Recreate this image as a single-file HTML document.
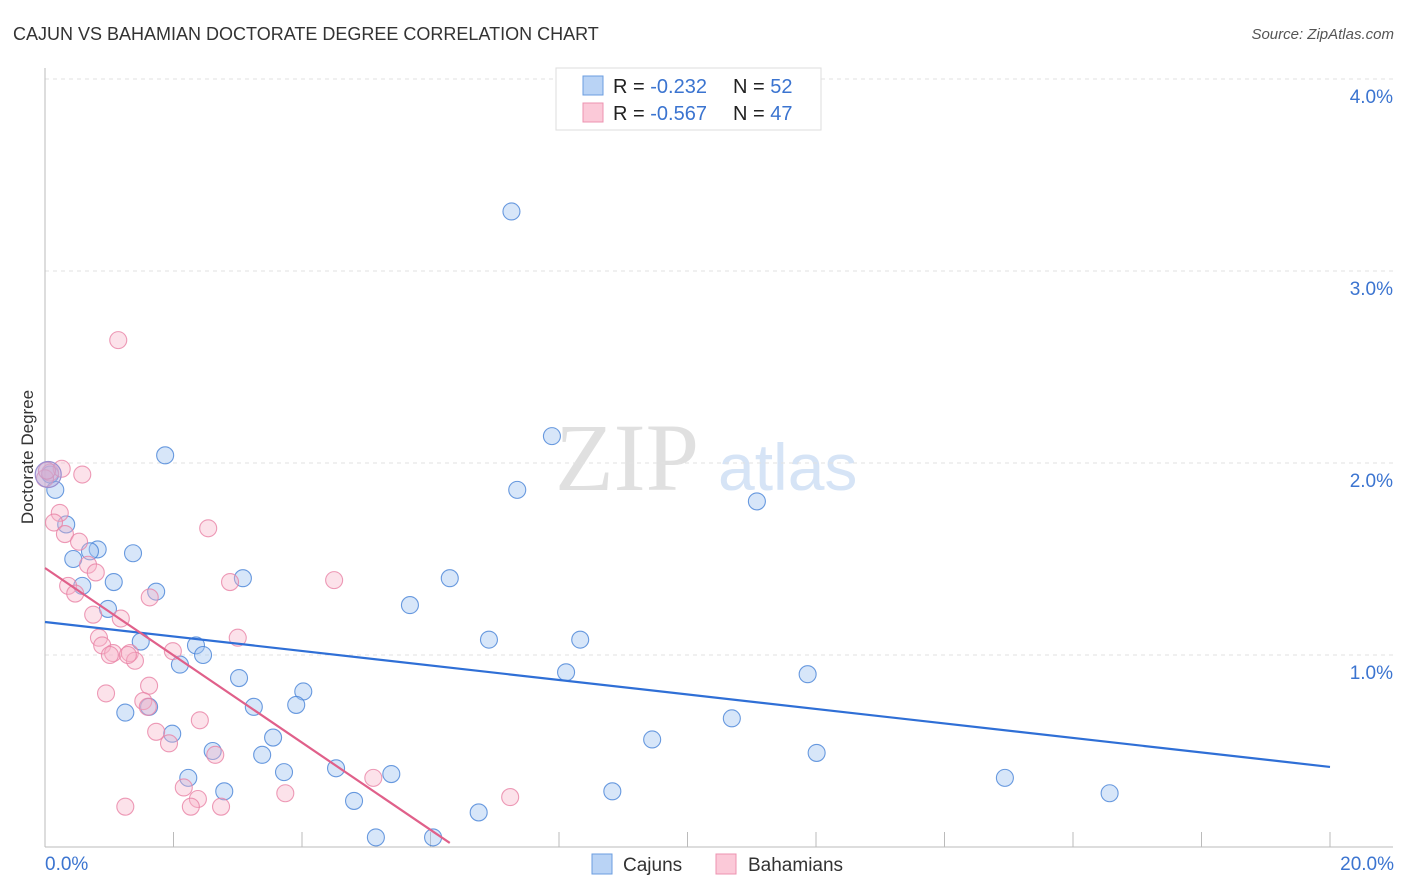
<!DOCTYPE html>
<html><head><meta charset="utf-8"><style>
body{margin:0;background:#fff;font-family:"Liberation Sans",sans-serif;}
#wrap{position:relative;width:1406px;height:892px;overflow:hidden;}
</style></head><body>
<div id="wrap">
<svg id="svg" width="1406" height="892" xmlns="http://www.w3.org/2000/svg">
<text x="13" y="40" font-size="18" fill="#333">CAJUN VS BAHAMIAN DOCTORATE DEGREE CORRELATION CHART</text>
<text x="1394" y="39" font-size="15" fill="#555" font-style="italic" text-anchor="end">Source: ZipAtlas.com</text>
<text x="0" y="0" transform="translate(33,457) rotate(-90)" font-size="17" fill="#333" text-anchor="middle">Doctorate Degree</text>
<text x="555" y="490" font-size="96" fill="#e0e0e0" font-family="Liberation Serif">ZIP</text>
<text x="718" y="490" font-size="66" fill="#d6e4f6">atlas</text>
<g id="grid"></g><g id="pts"></g><g id="lines"></g>
<g>
<rect x="556" y="68" width="265" height="62" fill="#fff" stroke="#ddd"/>
<rect x="583" y="76" width="20" height="19" fill="#b9d3f5" stroke="#6b9ee0"/>
<rect x="583" y="103" width="20" height="19" fill="#fbc9d8" stroke="#ec93b0"/>
<text x="613" y="93" font-size="20" fill="#222">R = <tspan fill="#3b74d0">-0.232</tspan><tspan x="733">N = </tspan><tspan fill="#3b74d0">52</tspan></text>
<text x="613" y="120" font-size="20" fill="#222">R = <tspan fill="#3b74d0">-0.567</tspan><tspan x="733">N = </tspan><tspan fill="#3b74d0">47</tspan></text>
</g>
<g>
<rect x="592" y="854" width="20" height="20" fill="#b9d3f5" stroke="#6b9ee0"/>
<text x="623" y="871" font-size="19" fill="#333">Cajuns</text>
<rect x="716" y="854" width="20" height="20" fill="#fbc9d8" stroke="#ec93b0"/>
<text x="748" y="871" font-size="19" fill="#333">Bahamians</text>
</g>
<text x="45" y="870" font-size="19" fill="#3b74d0">0.0%</text>
<text x="1394" y="870" font-size="19" fill="#3b74d0" text-anchor="end">20.0%</text>
</svg>
</div>
<script>
const yTicks=[1,2,3,4];
const yTickLabels=["1.0%","2.0%","3.0%","4.0%"];
const cajunX=[7.26,7.89,7.35,11.08,1.87,0.16,0.08,0.33,0.82,0.70,0.44,1.37,1.07,0.58,1.73,3.08,6.30,5.68,0.98,1.49,2.35,2.46,2.10,6.91,8.33,8.11,11.87,3.02,4.02,3.25,3.91,1.62,1.25,10.69,1.98,3.55,9.45,2.61,3.38,12.01,4.53,5.39,3.72,2.23,14.94,2.79,8.83,16.57,4.81,6.75,5.15,6.04];
const cajunY=[3.31,2.14,1.86,1.80,2.04,1.86,1.94,1.68,1.55,1.54,1.50,1.53,1.38,1.36,1.33,1.40,1.40,1.26,1.24,1.07,1.05,1.00,0.95,1.08,1.08,0.91,0.90,0.88,0.81,0.73,0.74,0.73,0.70,0.67,0.59,0.57,0.56,0.50,0.48,0.49,0.41,0.38,0.39,0.36,0.36,0.29,0.29,0.28,0.24,0.18,0.05,0.05];
const bahamX=[1.14,0.58,0.08,0.00,0.23,0.14,0.31,0.53,0.67,0.79,0.36,0.47,2.54,2.88,4.50,1.63,0.75,1.18,0.84,0.89,3.00,1.06,1.32,1.40,1.99,1.01,1.29,0.95,1.62,1.53,1.60,2.41,1.73,1.93,2.65,5.11,2.16,3.74,7.24,2.38,2.27,2.74,1.25,0.26,0.03];
const bahamY=[2.64,1.94,1.95,1.92,1.74,1.69,1.63,1.59,1.47,1.43,1.36,1.32,1.66,1.38,1.39,1.30,1.21,1.19,1.09,1.05,1.09,1.01,1.01,0.97,1.02,1.00,1.00,0.80,0.84,0.76,0.73,0.66,0.60,0.54,0.48,0.36,0.31,0.28,0.26,0.25,0.21,0.21,0.21,1.97,1.96];
const cajunTrend=[[0,1.172],[20,0.417]];
const bahamTrend=[[0,1.453],[6.30,0.021]];
const NS="http://www.w3.org/2000/svg";
const X=v=>45+v*64.25, Y=v=>847-v*192;
function mk(t,a,p){const e=document.createElementNS(NS,t);for(const k in a)e.setAttribute(k,a[k]);p.appendChild(e);return e;}
const grid=document.getElementById('grid');
yTicks.forEach((t,i)=>{
 const l=mk('line',{x1:45,x2:1393,y1:Y(t),y2:Y(t),stroke:'#e2e2e2','stroke-dasharray':'4,4'},grid);
 
 
 const tx=mk('text',{x:1393,y:Y(t)+24,'font-size':19,fill:'#3b74d0','text-anchor':'end'},grid);
 tx.textContent=yTickLabels[i];
 
 
});
let ax=mk('line',{x1:45,x2:45,y1:68,y2:847,stroke:'#bbb'},grid);


ax=mk('line',{x1:45,x2:1393,y1:847,y2:847,stroke:'#bbb'},grid);


for(let v=2;v<=20;v+=2){
 const t=mk('line',{x1:X(v),x2:X(v),y1:832,y2:847,stroke:'#bbb'},grid);
 
 
}
const pts=document.getElementById('pts');
cajunX.forEach((x,i)=>{
 const c=mk('circle',{cx:X(x),cy:Y(cajunY[i]),r:8.5,fill:'rgba(160,196,240,0.42)',stroke:'rgba(70,130,215,0.8)','stroke-width':1.1},pts);
 
 
});
bahamX.forEach((x,i)=>{
 const c=mk('circle',{cx:X(x),cy:Y(bahamY[i]),r:8.5,fill:'rgba(248,180,200,0.38)',stroke:'rgba(232,130,165,0.8)','stroke-width':1.1},pts);
 
 
});
const big=mk('circle',{cx:X(0.05),cy:Y(1.94),r:13,fill:'rgba(180,170,220,0.45)',stroke:'#9b8fd0','stroke-width':1.2},pts);


const lines=document.getElementById('lines');
let l=mk('line',{x1:X(cajunTrend[0][0]),y1:Y(cajunTrend[0][1]),x2:X(cajunTrend[1][0]),y2:Y(cajunTrend[1][1]),stroke:'#2f6fd6','stroke-width':2.2},lines);


l=mk('line',{x1:X(bahamTrend[0][0]),y1:Y(bahamTrend[0][1]),x2:X(bahamTrend[1][0]),y2:Y(bahamTrend[1][1]),stroke:'#e0608a','stroke-width':2.2},lines);


</script>
</body></html>
